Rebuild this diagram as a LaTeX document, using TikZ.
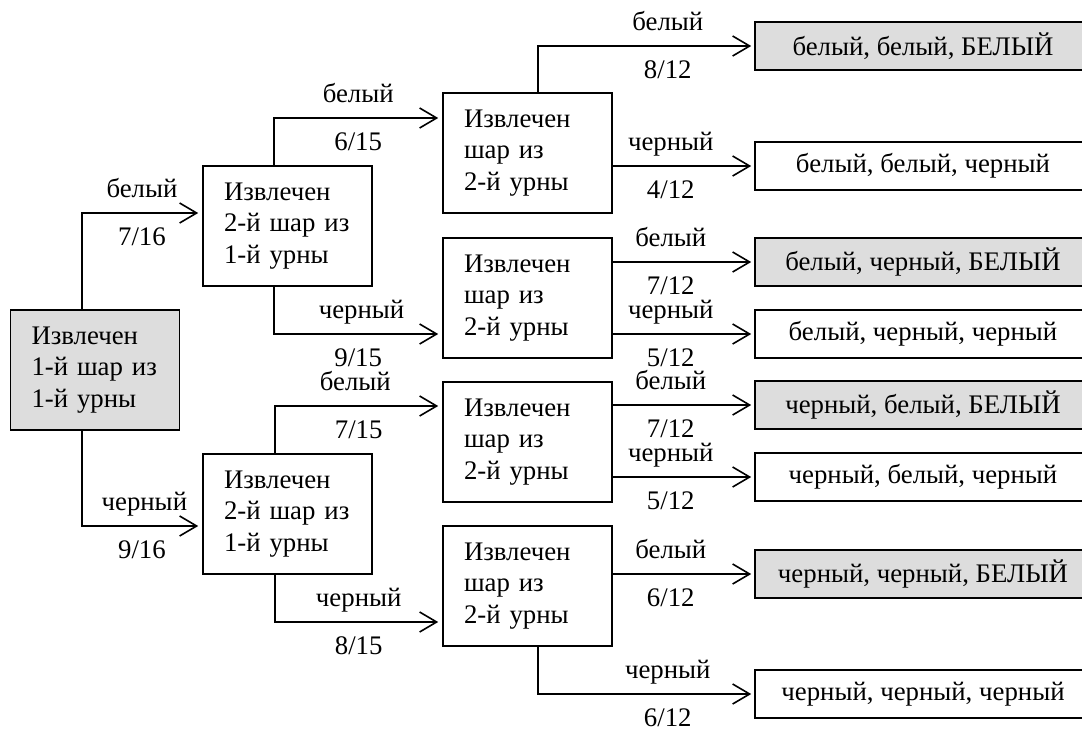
\documentclass[tikz,border=0pt]{standalone}
\usepackage{fontspec}
\setmainfont{Liberation Serif}
\usetikzlibrary{arrows.meta,positioning,calc}
\definecolor{boxgray}{RGB}{221,221,221}

\begin{document}
\begin{tikzpicture}[x=1pt,y=-1pt,line width=1.6pt,
  >={Straight Barb[length=17pt,width=20pt]},
  font=\fontsize{26.8}{31.5}\selectfont,
  ask/.style={draw,align=left,text width=127pt,inner xsep=21pt,inner ysep=0pt,minimum height=120pt},
  res/.style={draw,minimum width=336pt,minimum height=48pt,inner sep=0pt},
  up/.style={anchor=base,inner sep=0pt,yshift=15.5pt},
  dn/.style={anchor=base,inner sep=0pt,yshift=-32.5pt}]
\useasboundingbox (0,0) rectangle (1082,729);
% boxes
\node[ask,fill=boxgray] (A) at (95,370) {Извлечен\\1-й шар из\\1-й урны};
\node[ask] (B1) at (287.5,226) {Извлечен\\2-й шар из\\1-й урны};
\node[ask] (B2) at (287.5,514) {Извлечен\\2-й шар из\\1-й урны};
\node[ask] (C1) at (527.5,153) {Извлечен\\шар из\\2-й урны};
\node[ask] (C2) at (527.5,298) {Извлечен\\шар из\\2-й урны};
\node[ask] (C3) at (527.5,442) {Извлечен\\шар из\\2-й урны};
\node[ask] (C4) at (527.5,586) {Извлечен\\шар из\\2-й урны};
\node[res,fill=boxgray] (D1) at (923,46)  {белый, белый, БЕЛЫЙ};
\node[res]              (D2) at (923,166) {белый, белый, черный};
\node[res,fill=boxgray] (D3) at (923,262) {белый, черный, БЕЛЫЙ};
\node[res]              (D4) at (923,334) {белый, черный, черный};
\node[res,fill=boxgray] (D5) at (923,405) {черный, белый, БЕЛЫЙ};
\node[res]              (D6) at (923,477) {черный, белый, черный};
\node[res,fill=boxgray] (D7) at (923,574) {черный, черный, БЕЛЫЙ};
\node[res]              (D8) at (923,694) {черный, черный, черный};
% first ball
\draw[->,shorten >=4pt] ($(A.north west)+(72,0)$) |- node[up,pos=.75]{белый} node[dn,pos=.75]{7/16} (B1.west |- 0,213);
\draw[->,shorten >=4pt] ($(A.south west)+(72,0)$) |- node[up,pos=.76]{черный} node[dn,pos=.75]{9/16} (B2.west |- 0,526);
% second ball
\draw[->,shorten >=4pt] ($(B1.north west)+(72,0)$) |- node[up,pos=.75]{белый} node[dn,pos=.75]{6/15} (C1.west |- 0,118);
\draw[->,shorten >=4pt] ($(B1.south west)+(72,0)$) |- node[up,pos=.76]{черный} node[dn,pos=.75]{9/15} (C2.west |- 0,334);
\draw[->,shorten >=4pt] ($(B2.north west)+(73,0)$) |- node[up,pos=.74]{белый} node[dn,pos=.75]{7/15} (C3.west |- 0,406);
\draw[->,shorten >=4pt] ($(B2.south west)+(73,0)$) |- node[up,pos=.75]{черный} node[dn,pos=.75]{8/15} (C4.west |- 0,622);
% third ball
\draw[->,shorten >=3pt] ($(C1.north west)+(96,0)$) |- node[up,pos=.8]{белый} node[dn,pos=.8]{8/12} (D1.west);
\draw[->,shorten >=3pt] (C1.east |- D2.west) -- node[up,pos=.41]{черный} node[dn,pos=.41]{4/12} (D2.west);
\draw[->,shorten >=3pt] (C2.east |- D3.west) -- node[up,pos=.41]{белый} node[dn,pos=.41]{7/12} (D3.west);
\draw[->,shorten >=3pt] (C2.east |- D4.west) -- node[up,pos=.41]{черный} node[dn,pos=.41]{5/12} (D4.west);
\draw[->,shorten >=3pt] (C3.east |- D5.west) -- node[up,pos=.41]{белый} node[dn,pos=.41]{7/12} (D5.west);
\draw[->,shorten >=3pt] (C3.east |- D6.west) -- node[up,pos=.41]{черный} node[dn,pos=.41]{5/12} (D6.west);
\draw[->,shorten >=3pt] (C4.east |- D7.west) -- node[up,pos=.41]{белый} node[dn,pos=.41]{6/12} (D7.west);
\draw[->,shorten >=3pt] ($(C4.south west)+(96,0)$) |- node[up,pos=.8]{черный} node[dn,pos=.8]{6/12} (D8.west);
\end{tikzpicture}
\end{document}
